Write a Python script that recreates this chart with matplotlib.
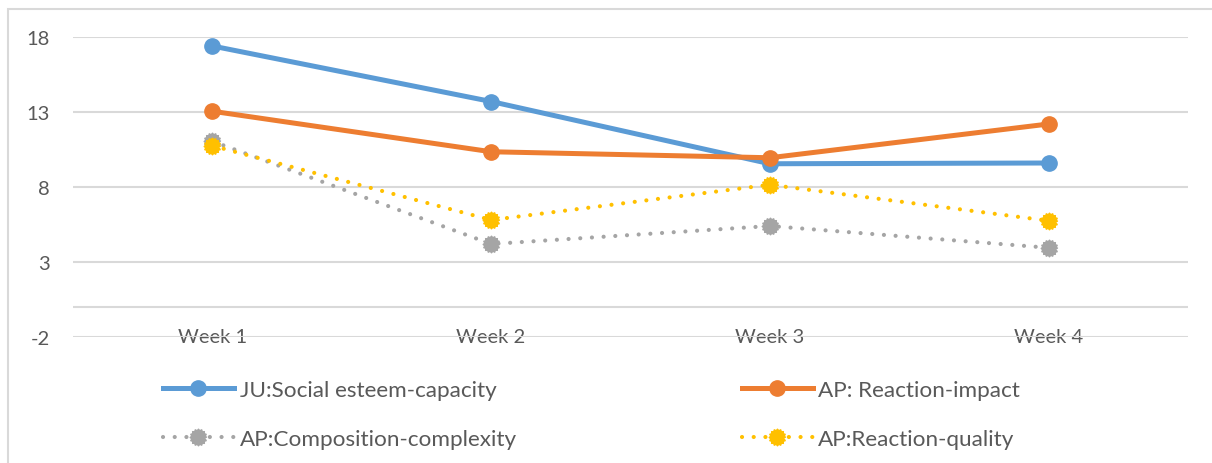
import matplotlib
matplotlib.use("Agg")
import matplotlib.pyplot as plt
from matplotlib.patches import Rectangle
from matplotlib.path import Path
import numpy as np

weeks = ["Week 1", "Week 2", "Week 3", "Week 4"]
social_esteem = [17.4, 13.7, 9.55, 9.6]
reaction_impact = [13.05, 10.35, 9.95, 12.2]
composition_complexity = [11.05, 4.2, 5.4, 3.95]
reaction_quality = [10.75, 5.8, 8.15, 5.75]
yticks = [-2, 3, 8, 13, 18]

plt.rcParams["font.family"] = ["Lato", "DejaVu Sans"]
plt.rcParams["axes.unicode_minus"] = False
text_col = "#595959"
grid_col = "#D9D9D9"

# zackiger Kreis wie bei Excel (gepunkteter Rand)
ang = np.linspace(0, 2 * np.pi, 33)[:-1]
rad = np.where(np.arange(32) % 2 == 0, 1.0, 0.82)
gear = Path(np.column_stack([rad * np.cos(ang), rad * np.sin(ang)]))

fig = plt.figure(figsize=(12.12, 4.64), dpi=100)
fig.patches.append(Rectangle((8 / 1212, -0.1), 1.2, 1 - 10 / 464 + 0.1,
                             transform=fig.transFigure, fill=False,
                             edgecolor=grid_col, lw=1.5))
ax = fig.add_axes([73 / 1212, 1 - 338 / 464, 1115 / 1212, 300 / 464])

x = np.arange(len(weeks))
l1, = ax.plot(x, social_esteem, color="#5B9BD5", lw=3.6, marker="o", ms=11,
              label="JU:Social esteem-capacity", zorder=3)
l2, = ax.plot(x, reaction_impact, color="#ED7D31", lw=3.6, marker="o", ms=11,
              label="AP: Reaction-impact", zorder=3)
l3, = ax.plot(x, composition_complexity, color="#A5A5A5", lw=3.0, ls=(0, (0.01, 2.8)),
              dash_capstyle="round", marker=gear, ms=12,
              label="AP:Composition-complexity", zorder=2)
l4, = ax.plot(x, reaction_quality, color="#FFC000", lw=3.0, ls=(0, (0.01, 2.8)),
              dash_capstyle="round", marker=gear, ms=12,
              label="AP:Reaction-quality", zorder=2)

ax.set_xlim(-0.5, 3.5)
ax.set_ylim(-2, 18)
ax.set_yticks(yticks)
ax.grid(axis="y", color=grid_col, lw=1.5, zorder=0)
ax.axhline(0, color=grid_col, lw=1.5, zorder=0)
for s in ax.spines.values():
    s.set_visible(False)
ax.set_xticks(x)
ax.set_xticklabels(weeks, va="center")
ax.tick_params(axis="x", length=0, pad=0, labelsize=14.5, labelcolor=text_col)
ax.tick_params(axis="y", length=0, pad=16.5, labelsize=14.5, labelcolor=text_col)

# Reihenfolge spaltenweise, damit es zeilenweise wie im Original aussieht
hs = [l1, l3, l2, l4]
leg = fig.legend(hs, [h.get_label() for h in hs], loc="upper left",
                 bbox_to_anchor=(163 / 1212, 1 - 381 / 464),
                 ncol=2, frameon=False, fontsize=16.2, handlelength=3.15,
                 handletextpad=0.25, columnspacing=10, labelspacing=1.3,
                 borderaxespad=0, borderpad=0)
for t in leg.get_texts():
    t.set_color(text_col)

fig.savefig("out.png", dpi=100)
